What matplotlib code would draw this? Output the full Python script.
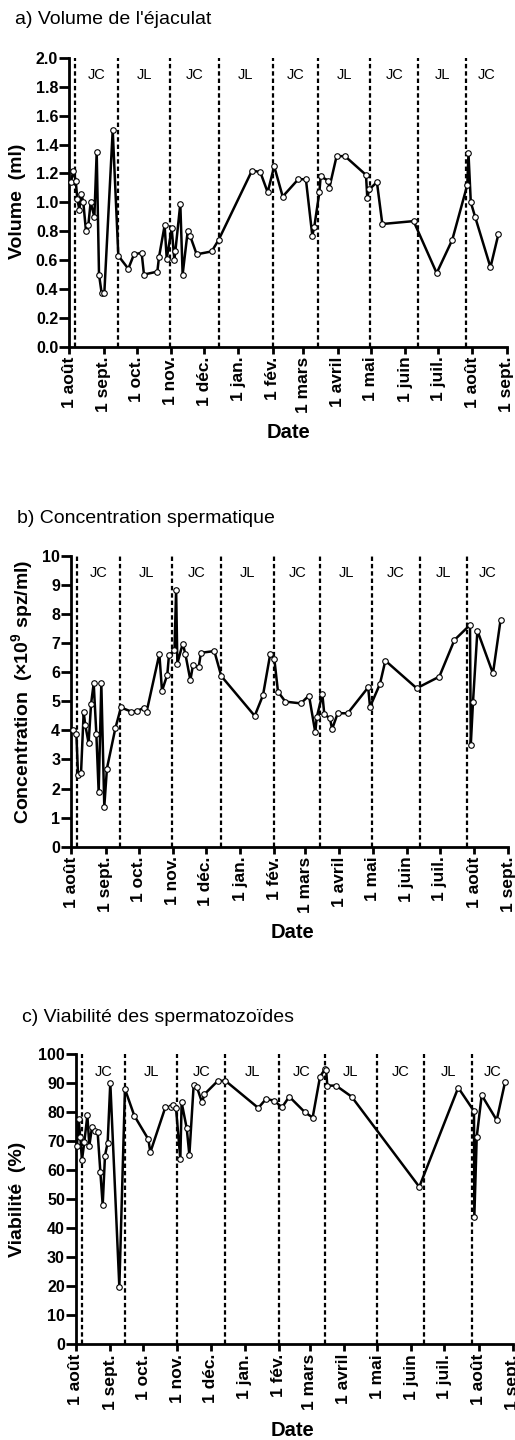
import numpy as np
import matplotlib
matplotlib.use('Agg')
import matplotlib.pyplot as plt
import matplotlib.transforms as mtransforms

plt.rcParams['font.family'] = ['Liberation Sans', 'DejaVu Sans']
plt.rcParams['font.weight'] = 'bold'

# jours depuis le 1er août
days_a = [1.5, 3.6, 5.8, 7.3, 9.1, 10.9, 12.7, 15.1, 17.2, 19.3,
          22.7, 24.8, 26.9, 29.3, 31.7, 39.3, 44.4, 53.4, 58.6, 65.5,
          67.6, 79.7, 81.2, 86.3, 88.2, 92.7, 95.1, 96.0, 100.5, 102.6,
          107.2, 109.3, 115.3, 128.9, 135.2, 165.4, 172.9, 179.6, 185.5, 193.2,
          207.3, 214.2, 220.0, 221.8, 226.4, 227.6, 234.5, 235.4, 242.0, 249.6,
          268.6, 269.8, 271.6, 278.5, 283.4, 311.7, 332.6, 346.7, 360.3, 361.4,
          363.5, 367.4, 381.3, 388.5]
volume = [1.14, 1.22, 1.15, 1.02, 0.95, 1.06, 1.00, 0.80, 0.84, 1.00,
          0.90, 1.35, 0.50, 0.37, 0.37, 1.50, 0.63, 0.54, 0.64, 0.65,
          0.50, 0.52, 0.62, 0.84, 0.61, 0.82, 0.60, 0.66, 0.99, 0.50,
          0.80, 0.77, 0.64, 0.66, 0.74, 1.22, 1.21, 1.07, 1.25, 1.04,
          1.16, 1.16, 0.77, 0.83, 1.07, 1.18, 1.15, 1.10, 1.32, 1.32,
          1.19, 1.03, 1.09, 1.14, 0.85, 0.87, 0.51, 0.74, 1.12, 1.34,
          1.00, 0.90, 0.55, 0.78]

days_b = [1.9, 4.6, 6.1, 8.8, 11.2, 12.7, 15.7, 17.9, 20.3, 22.7,
          24.8, 27.2, 29.9, 32.3, 39.9, 45.0, 54.1, 59.5, 66.2, 68.3,
          79.8, 82.2, 87.0, 88.5, 93.5, 95.0, 96.1, 101.0, 103.4, 107.9,
          110.3, 115.4, 117.5, 129.6, 135.9, 166.2, 173.7, 180.3, 184.0, 187.3,
          194.0, 208.0, 215.4, 221.1, 222.4, 227.5, 229.3, 234.4, 236.3, 241.4,
          250.5, 269.0, 270.7, 279.7, 284.6, 313.0, 333.5, 347.2, 361.3, 362.0,
          364.0, 368.0, 382.1, 389.0]
concentration = [4.01, 3.88, 2.46, 2.52, 4.62, 4.18, 3.56, 4.91, 5.62, 3.88,
                 1.87, 5.62, 1.38, 2.69, 4.07, 4.79, 4.65, 4.67, 4.78, 4.65,
                 6.63, 5.36, 5.92, 6.59, 6.75, 8.83, 6.30, 6.99, 6.62, 5.73,
                 6.25, 6.17, 6.67, 6.73, 5.87, 4.50, 5.21, 6.63, 6.45, 5.33,
                 4.99, 4.93, 5.20, 3.93, 4.45, 5.24, 4.55, 4.42, 4.04, 4.59,
                 4.59, 5.48, 4.81, 5.60, 6.40, 5.45, 5.85, 7.11, 7.63, 3.50,
                 4.97, 7.43, 5.96, 7.80]

days_c = [0.9, 2.4, 3.9, 5.4, 7.6, 10.3, 12.1, 14.5, 16.9, 19.6,
          22.1, 24.2, 26.3, 28.7, 31.1, 39.3, 44.4, 52.9, 65.6, 67.4,
          81.0, 86.1, 88.3, 90.7, 94.6, 95.8, 100.4, 102.8, 106.7, 109.7,
          114.3, 116.4, 128.5, 135.4, 165.3, 172.3, 179.8, 186.8, 193.4, 207.6,
          214.6, 221.3, 225.8, 226.8, 227.9, 235.8, 249.9, 311.3, 346.6, 360.9,
          361.2, 363.4, 367.9, 381.5, 389.0]
viabilite = [68.5, 77.6, 71.4, 63.5, 69.9, 78.9, 68.5, 74.8, 73.5, 73.3,
             59.3, 48.0, 65.1, 69.5, 90.2, 19.8, 88.0, 78.8, 70.7, 66.2,
             81.7, 81.9, 82.5, 81.4, 63.9, 83.4, 74.5, 65.3, 89.4, 88.6,
             83.4, 86.2, 90.8, 90.9, 81.5, 84.6, 84.0, 81.7, 85.4, 80.0,
             78.2, 92.3, 94.9, 94.6, 89.2, 89.2, 85.4, 54.3, 88.5, 80.4,
             44.0, 71.6, 85.9, 77.3, 90.3]

# changements de groupe (JC / JL)
switch_days = [5.5, 44.5, 91.5, 135.5, 184, 225.5, 272.5, 316, 359]
groups = ['JC', 'JL', 'JC', 'JL', 'JC', 'JL', 'JC', 'JL', 'JC']

month_labels = ['1 août', '1 sept.', '1 oct.', '1 nov.', '1 déc.', '1 jan.', '1 fév.',
                '1 mars', '1 avril', '1 mai', '1 juin', '1 juil.', '1 août', '1 sept.']
months = np.arange('2009-08', '2010-10', dtype='datetime64[M]')
month_days = (months.astype('datetime64[D]') - np.datetime64('2009-08-01')).astype(int)
end_day = month_days[-1]

W, H = 515, 1440
fig = plt.figure(figsize=(W / 100, H / 100), dpi=100)


def px_axes(left, right, top, bottom):
    return fig.add_axes([left / W, 1 - bottom / H, (right - left) / W, (bottom - top) / H])


def draw_panel(ax, days, vals, ymax, ystep, fmt):
    ax.set_xlim(0, end_day)
    ax.set_ylim(0, ymax)
    for d in switch_days:
        ax.axvline(d, color='black', lw=1.6, linestyle=(0, (2, 1.3)), zorder=1)
    edges = switch_days + [end_day]
    trans = mtransforms.blended_transform_factory(ax.transData, ax.transAxes)
    for i, g in enumerate(groups):
        ax.text((edges[i] + edges[i + 1]) / 2, 0.94, g, transform=trans,
                ha='center', va='center', fontsize=10.5, fontweight='normal')
    ax.plot(days, vals, '-o', color='black', lw=1.8, ms=4, mfc='white',
            mec='black', mew=0.8, zorder=3, clip_on=False)
    ax.spines['top'].set_visible(False)
    ax.spines['right'].set_visible(False)
    ax.spines['left'].set_linewidth(2)
    ax.spines['bottom'].set_linewidth(2)
    ax.set_yticks(np.arange(0, ymax + ystep / 2, ystep))
    ax.set_yticklabels([fmt % v for v in np.arange(0, ymax + ystep / 2, ystep)])
    ax.set_xticks(month_days)
    ax.set_xticklabels(month_labels, rotation=90)
    ax.tick_params(axis='y', length=7, width=2, labelsize=11.5, pad=1)
    ax.tick_params(axis='x', length=5, width=2, labelsize=12.5, pad=2)


# a) volume
ax1 = px_axes(69.3, 506.7, 58, 346.7)
draw_panel(ax1, days_a, volume, 2.0, 0.2, '%.1f')
fig.text(15 / W, 1 - 20 / H, "a) Volume de l'éjaculat", fontsize=14, fontweight='normal',
         ha='left', va='center')
fig.text(17.5 / W, 1 - 201 / H, 'Volume  (ml)', fontsize=14, rotation=90, ha='center', va='center')
fig.text(288 / W, 1 - 433 / H, 'Date', fontsize=14.5, ha='center', va='center')

# b) concentration
ax2 = px_axes(71.3, 508.3, 556, 846.7)
draw_panel(ax2, days_b, concentration, 10, 1, '%d')
fig.text(17 / W, 1 - 519 / H, 'b) Concentration spermatique', fontsize=14, fontweight='normal',
         ha='left', va='center')
fig.text(22 / W, 1 - 692 / H, r'Concentration  ($\mathregular{\times10^{9}}$ spz/ml)', fontsize=14,
         rotation=90, ha='center', va='center')
fig.text(292 / W, 1 - 932 / H, 'Date', fontsize=14.5, ha='center', va='center')

# c) viabilité
ax3 = px_axes(76, 512.7, 1054.3, 1344.3)
draw_panel(ax3, days_c, viabilite, 100, 10, '%d')
fig.text(22 / W, 1 - 1017 / H, 'c) Viabilité des spermatozoïdes', fontsize=14, fontweight='normal',
         ha='left', va='center')
fig.text(18 / W, 1 - 1199 / H, 'Viabilité  (%)', fontsize=14, rotation=90, ha='center', va='center')
fig.text(293 / W, 1 - 1430 / H, 'Date', fontsize=14.5, ha='center', va='center')

fig.savefig('out.png', dpi=100)
